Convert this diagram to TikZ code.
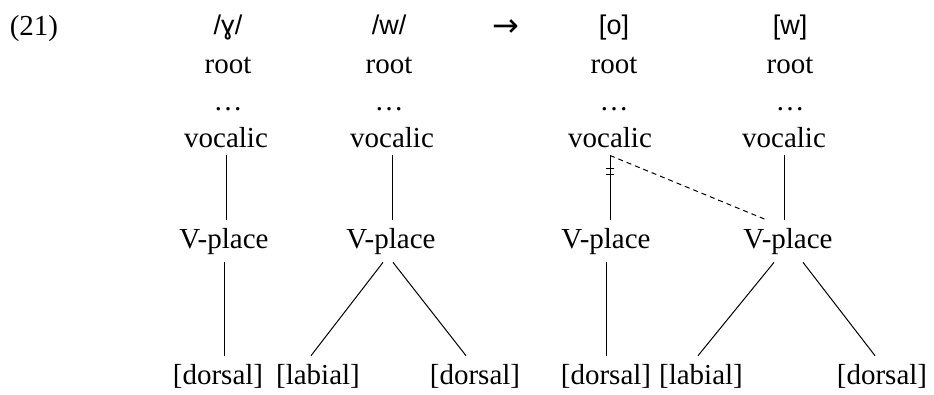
\documentclass[tikz,border=0pt]{standalone}
\usepackage{fontspec}
\setmainfont{Liberation Serif}
\newfontfamily\ipafont{Liberation Sans}
\newfontfamily\arrowfont{DejaVu Sans}
\usetikzlibrary{calc}

\begin{document}
\begin{tikzpicture}[
  x=1pt, y=-1pt,
  feat/.style={anchor=base, inner sep=8pt, font=\fontsize{29}{34}\selectfont},
  seg/.style={anchor=base, inner sep=2pt, font=\ipafont\fontsize{27}{32}\selectfont},
  assoc/.style={line width=1pt},
  spread/.style={line width=1pt, dash pattern=on 5pt off 4pt}
]
  \useasboundingbox (0,0) rectangle (934,394);
  \node[feat] (ex) at (34,35) {(21)};
  % segments
  \node[seg] (s1) at (228,34) {/ɣ/};
  \node[seg] (s2) at (389,34) {/w/};
  \node[seg, font=\arrowfont\fontsize{32}{36}\selectfont] (arr) at (506,36) {→};
  \node[seg] (s3) at (614,34) {[o]};
  \node[seg] (s4) at (790,34) {[w]};
  % root and dots
  \node[feat] (r1) at (228,73) {root};
  \node[feat] (r2) at (389,73) {root};
  \node[feat] (r3) at (614,73) {root};
  \node[feat] (r4) at (790,73) {root};
  \node[feat] (o1) at (228,110) {\dots};
  \node[feat] (o2) at (389,110) {\dots};
  \node[feat] (o3) at (614,110) {\dots};
  \node[feat] (o4) at (790,110) {\dots};
  % vocalic and V-place
  \node[feat] (v1) at (226,147) {vocalic};
  \node[feat] (v2) at (392,147) {vocalic};
  \node[feat] (v3) at (610,147) {vocalic};
  \node[feat] (v4) at (784,147) {vocalic};
  \node[feat] (p1) at (224,248) {V-place};
  \node[feat] (p2) at (391,248) {V-place};
  \node[feat] (p3) at (606,248) {V-place};
  \node[feat] (p4) at (788,248) {V-place};
  % terminal features
  \node[feat] (d1) at (218,384) {[dorsal]};
  \node[feat] (l1) at (318,384) {[labial]};
  \node[feat] (d2) at (475,384) {[dorsal]};
  \node[feat] (d3) at (606,384) {[dorsal]};
  \node[feat] (l2) at (701,384) {[labial]};
  \node[feat] (d4) at (882,384) {[dorsal]};

  \draw[assoc] (v1.south) -- (v1.south |- p1.north);
  \draw[assoc] (p1.south) -- (p1.south |- d1.north);
  \draw[assoc] (v2.south) -- (v2.south |- p2.north);
  \draw[assoc] ([xshift=-8pt]p2.south) -- ([xshift=-7pt]l1.north);
  \draw[assoc] ([xshift=2pt]p2.south) -- ([xshift=-9pt]d2.north);
  \draw[assoc] (v3.south) -- (v3.south |- p3.north);
  \draw[assoc] (p3.south) -- (p3.south |- d3.north);
  \draw[assoc] (v4.south) -- (v4.south |- p4.north);
  \draw[assoc] ([xshift=-14pt]p4.south) -- ([xshift=-3pt]l2.north);
  \draw[assoc] ([xshift=15pt]p4.south) -- ([xshift=-7pt]d4.north);
  \draw[spread] (v3.south) -- ([xshift=-22pt]p4.north);
  % delinking mark
  \coordinate (cut) at ($(v3.south)!0.25!(v3.south |- p3.north)$);
  \draw[line width=0.8pt] ([shift={(-4,-3)}]cut) -- ++(8,0);
  \draw[line width=0.8pt] ([shift={(-4,3)}]cut) -- ++(8,0);
\end{tikzpicture}
\end{document}
